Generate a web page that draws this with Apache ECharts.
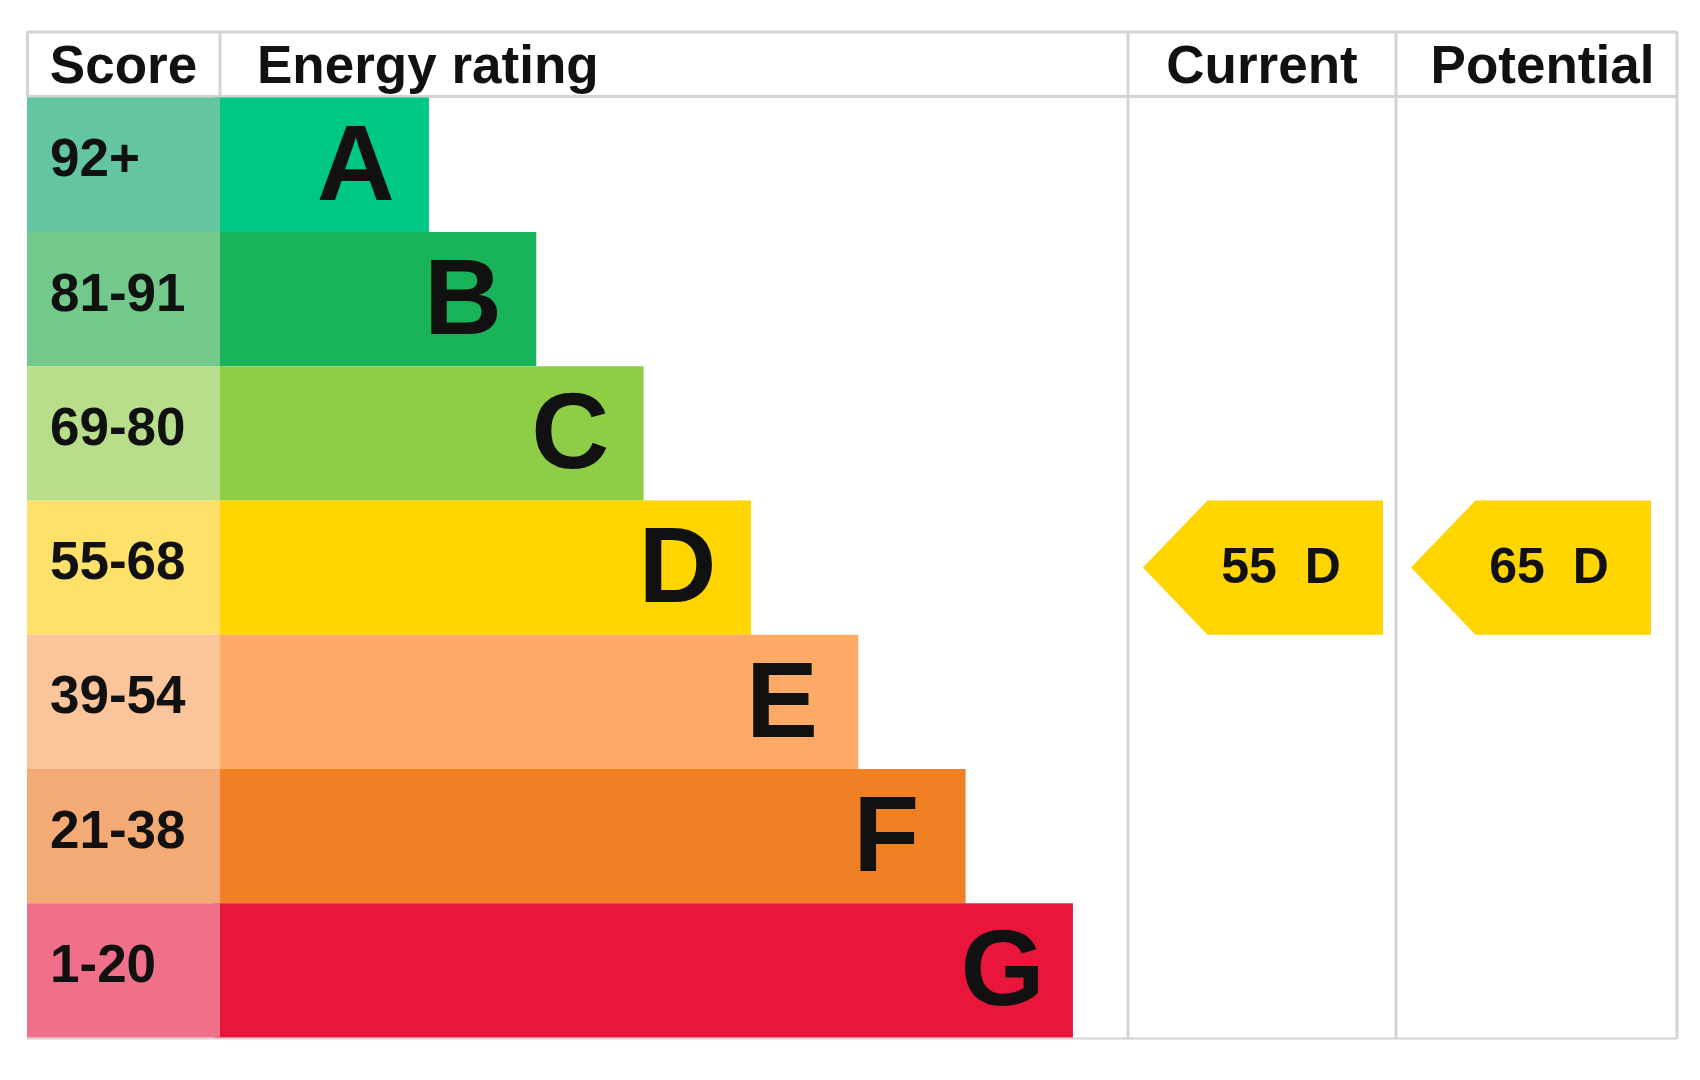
<!DOCTYPE html>
<html>
<head>
<meta charset="utf-8">
<script src="https://cdn.jsdelivr.net/npm/echarts@6/dist/echarts.min.js"></script>
<style>
html,body{margin:0;padding:0;background:#ffffff;}
#chart{width:1700px;height:1080px;}
</style>
</head>
<body>
<div id="chart"></div>
<script>
// ---- data ----
const bands = ['A', 'B', 'C', 'D', 'E', 'F', 'G'];
const scoreRanges = ['92+', '81-91', '69-80', '55-68', '39-54', '21-38', '1-20'];
const barLengths = [2, 3, 4, 5, 6, 7, 8];
const columnHeaders = ['Score', 'Energy rating', 'Current', 'Potential'];
const currentRating = [55, 'D'];
const potentialRating = [65, 'D'];

// ---- styles ----
const barColors = ['#00c781', '#19b459', '#8dce46', '#ffd500', '#fcaa65', '#ef8023', '#e9153b'];
const scoreColors = ['#63c6a1', '#72c98b', '#b6de8b', '#fee16a', '#fbc59c', '#f4aa74', '#f0708a'];
const FONT = '"Liberation Sans", Arial, Helvetica, sans-serif';
const TEXT = '#111111';
const LINE = '#d4d4d4';

// ---- layout ----
const L = 27, R = 1677, T = 32, HB = 97.6, BOT = 1037.6;
const scoreRight = 220, energyRight = 1128, currentRight = 1396;
const barOrigin = 214.3, unitMax = 8.5, barGridRight = 1126.6;

const chart = echarts.init(document.getElementById('chart'), null, {renderer: 'canvas'});

function arrowSeries(gridIdx, rating) {
  return {
    type: 'custom',
    xAxisIndex: gridIdx,
    yAxisIndex: gridIdx,
    data: [[0, rating[1], rating[0]]],
    encode: {x: 0, y: 1},
    renderItem: function (params, api) {
      const cs = params.coordSys;
      const c = api.coord([0, api.value(1)]);
      const h = api.size([0, 1])[1];
      const left = cs.x + 15;
      const right = left + 240;
      const tip = h * 0.48;
      const top = c[1] - h / 2, bottom = c[1] + h / 2;
      return {
        type: 'group',
        children: [
          {
            type: 'polygon',
            shape: {points: [[left, c[1]], [left + tip, top], [right, top], [right, bottom], [left + tip, bottom]]},
            style: {fill: barColors[bands.indexOf(rating[1])]}
          },
          {
            type: 'text',
            x: left + 138,
            y: c[1] + 2,
            style: {
              text: api.value(2) + '  ' + rating[1],
              fill: TEXT,
              fontSize: 50,
              fontWeight: 'bold',
              fontFamily: FONT,
              align: 'center',
              verticalAlign: 'middle'
            }
          }
        ]
      };
    }
  };
}

function headerText(x, text, align) {
  return {
    type: 'text', x: x, y: (T + HB) / 2 + 4, z: 10,
    style: {text: text, fill: TEXT, fontSize: 53, fontWeight: 'bold', fontFamily: FONT, align: align, verticalAlign: 'middle'}
  };
}
function hLine(x1, x2, y, w) {
  return {type: 'line', z: 0, shape: {x1: x1, y1: y, x2: x2, y2: y}, style: {stroke: LINE, lineWidth: w}};
}
function vLine(x, y1, y2, w) {
  return {type: 'line', z: 0, shape: {x1: x, y1: y1, x2: x, y2: y2}, style: {stroke: LINE, lineWidth: w}};
}

const hiddenValueAxis = (idx, max) => ({type: 'value', gridIndex: idx, min: 0, max: max, show: false});
const hiddenCatAxis = (idx, data) => ({type: 'category', gridIndex: idx, data: data, inverse: true, show: false});

chart.setOption({
  animation: false,
  backgroundColor: '#ffffff',
  grid: [
    {left: L, top: HB, width: scoreRight - L, height: BOT - HB},
    {left: barOrigin, top: HB, width: barGridRight - barOrigin, height: BOT - HB},
    {left: energyRight, top: HB, width: currentRight - energyRight, height: BOT - HB},
    {left: currentRight, top: HB, width: R - currentRight, height: BOT - HB}
  ],
  xAxis: [hiddenValueAxis(0, 1), hiddenValueAxis(1, unitMax), hiddenValueAxis(2, 1), hiddenValueAxis(3, 1)],
  yAxis: [hiddenCatAxis(0, scoreRanges), hiddenCatAxis(1, bands), hiddenCatAxis(2, bands), hiddenCatAxis(3, bands)],
  graphic: [
    hLine(L, R, T, 3),
    hLine(L, R, HB - 1, 3),
    hLine(L, R, BOT + 1, 2),
    vLine(L + 0.5, T, HB, 3),
    vLine(scoreRight, T, HB, 3),
    vLine(energyRight, T, BOT + 1, 3),
    vLine(currentRight, T, BOT + 1, 3),
    vLine(R, T, BOT + 1, 3),
    headerText((L + scoreRight) / 2, columnHeaders[0], 'center'),
    headerText(257, columnHeaders[1], 'left'),
    headerText((energyRight + currentRight) / 2, columnHeaders[2], 'center'),
    headerText((currentRight + R) / 2 + 6, columnHeaders[3], 'center')
  ],
  series: [
    {
      type: 'bar', xAxisIndex: 1, yAxisIndex: 1, z: 2,
      barCategoryGap: 0,
      data: barLengths.map((v, i) => ({value: v, itemStyle: {color: barColors[i]}}))
    },
    {
      // band letters start where the previous band's bar ends
      type: 'scatter', xAxisIndex: 1, yAxisIndex: 1, z: 4,
      symbolSize: 0,
      itemStyle: {opacity: 1},
      data: barLengths.map((v, i) => [v - 1, bands[i]]),
      label: {
        show: true, position: 'right', distance: 0, offset: [-5, 5],
        formatter: p => bands[p.dataIndex],
        opacity: 1,
        color: TEXT, fontSize: 108, fontWeight: 'bold', fontFamily: FONT
      }
    },
    {
      type: 'bar', xAxisIndex: 0, yAxisIndex: 0, z: 3,
      barCategoryGap: 0,
      data: scoreRanges.map((s, i) => ({value: 1, itemStyle: {color: scoreColors[i]}})),
      label: {
        show: true, position: 'insideLeft', distance: 23, offset: [0, -3],
        formatter: p => scoreRanges[p.dataIndex],
        color: TEXT, fontSize: 53, fontWeight: 'bold', fontFamily: FONT
      }
    },
    arrowSeries(2, currentRating),
    arrowSeries(3, potentialRating)
  ]
});
</script>
</body>
</html>
